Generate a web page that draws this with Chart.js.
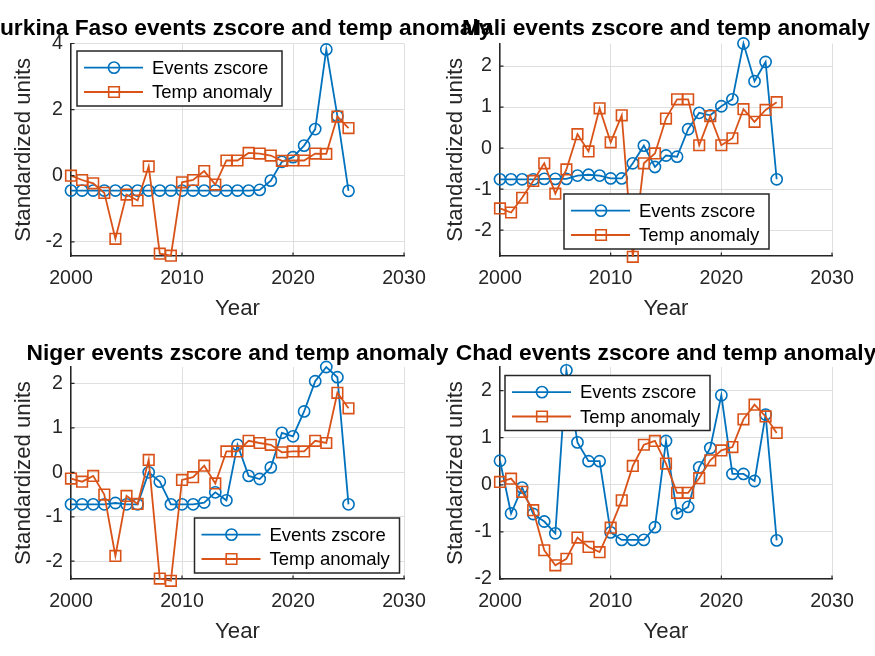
<!DOCTYPE html>
<html><head><meta charset="utf-8">
<script src="https://cdn.jsdelivr.net/npm/chart.js@4.4.1/dist/chart.umd.min.js"></script>
<style>
html,body{margin:0;padding:0;background:#fff;}
#wrap{position:relative;width:875px;height:656px;overflow:hidden;background:#fff;}
canvas{position:absolute;left:0;top:0;}
</style></head><body>
<div id="wrap">
<canvas id="c1" width="875" height="656"></canvas>
<canvas id="c2" width="875" height="656"></canvas>
<canvas id="c3" width="875" height="656"></canvas>
<canvas id="c4" width="875" height="656"></canvas>
</div>
<script>
// ---------------- DATA ----------------
const years = [2000,2001,2002,2003,2004,2005,2006,2007,2008,2009,2010,2011,2012,2013,2014,2015,2016,2017,2018,2019,2020,2021,2022,2023,2024,2025];
const xTicks = [2000,2010,2020,2030];
const seriesNames = ['Events zscore','Temp anomaly'];
const yLabel = 'Standardized units';
const xLabel = 'Year';

const burkinaTitle = 'Burkina Faso events zscore and temp anomaly';
const burkinaEvents = [-0.45,-0.45,-0.45,-0.45,-0.45,-0.45,-0.45,-0.45,-0.45,-0.45,-0.45,-0.45,-0.45,-0.45,-0.45,-0.45,-0.45,-0.43,-0.15,0.42,0.56,0.91,1.41,3.82,1.80,-0.46];
const burkinaTemp   = [0.00,-0.13,-0.23,-0.52,-1.91,-0.57,-0.75,0.28,-2.36,-2.42,-0.20,-0.13,0.14,-0.27,0.46,0.46,0.69,0.67,0.61,0.45,0.46,0.46,0.67,0.66,1.79,1.44];
const burkinaYTicks = [-2,0,2,4];
const burkinaYRange = [-2.43,4];

const maliTitle = 'Mali events zscore and temp anomaly';
const maliEvents = [-0.76,-0.76,-0.76,-0.76,-0.75,-0.75,-0.75,-0.67,-0.65,-0.67,-0.74,-0.74,-0.37,0.06,-0.46,-0.18,-0.21,0.46,0.86,0.80,1.02,1.19,2.55,1.63,2.10,-0.76];
const maliTemp   = [-1.47,-1.57,-1.21,-0.80,-0.37,-1.11,-0.52,0.34,-0.08,0.97,0.14,0.80,-2.65,-0.37,-0.13,0.72,1.19,1.19,0.07,0.78,0.07,0.24,0.95,0.64,0.93,1.12];
const maliYTicks = [-2,-1,0,1,2];
const maliYRange = [-2.63,2.55];

const nigerTitle = 'Niger events zscore and temp anomaly';
const nigerEvents = [-0.72,-0.72,-0.72,-0.72,-0.69,-0.72,-0.72,0.00,-0.21,-0.72,-0.72,-0.72,-0.68,-0.45,-0.63,0.62,-0.08,-0.15,0.11,0.89,0.81,1.37,2.05,2.37,2.14,-0.72];
const nigerTemp   = [-0.14,-0.21,-0.08,-0.50,-1.88,-0.53,-0.71,0.28,-2.39,-2.44,-0.17,-0.11,0.15,-0.25,0.47,0.47,0.71,0.66,0.62,0.45,0.47,0.47,0.71,0.66,1.79,1.44];
const nigerYTicks = [-2,-1,0,1,2];
const nigerYRange = [-2.40,2.37];

const chadTitle = 'Chad events zscore and temp anomaly';
const chadEvents = [0.51,-0.61,-0.06,-0.62,-0.78,-1.03,2.43,0.90,0.50,0.50,-1.01,-1.17,-1.17,-1.17,-0.90,0.93,-0.61,-0.47,0.37,0.78,1.90,0.23,0.23,0.08,1.49,-1.18];
const chadTemp   = [0.06,0.13,-0.15,-0.54,-1.39,-1.71,-1.57,-1.12,-1.32,-1.43,-0.91,-0.33,0.40,0.85,0.93,0.45,-0.17,-0.17,0.14,0.52,0.73,0.80,1.39,1.70,1.45,1.10];
const chadYTicks = [-2,-1,0,1,2];
const chadYRange = [-2,2.5];

// ---------------- STYLE ----------------
const FONT = '"Liberation Sans", Arial, Helvetica, sans-serif';
const BLUE = '#0072BD', ORANGE = '#D95319';
const AX = '#262626', GRID = '#dfdfdf';
const W = 875, H = 656, HX = 66;

Chart.defaults.font.family = FONT;
Chart.defaults.color = AX;

const titlePlugin = {
  id: 'mtitle',
  afterDraw(chart, args, o) {
    const ctx = chart.ctx, a = chart.chartArea;
    ctx.save();
    ctx.font = 'bold 22.8px ' + FONT;
    ctx.fillStyle = '#000';
    ctx.textAlign = 'center';
    ctx.textBaseline = 'alphabetic';
    ctx.fillText(o.text, (a.left + a.right) / 2, o.baseline);
    ctx.restore();
  }
};

const tickPlugin = {
  id: 'mticks',
  afterDraw(chart) {
    const ctx = chart.ctx, a = chart.chartArea, sx = chart.scales.x, sy = chart.scales.y;
    ctx.save();
    ctx.strokeStyle = AX; ctx.lineWidth = 1.2;
    ctx.beginPath();
    sx.ticks.forEach(t => { const px = sx.getPixelForValue(t.value); ctx.moveTo(px, a.bottom); ctx.lineTo(px, a.bottom - 3.5); });
    sy.ticks.forEach(t => { const py = sy.getPixelForValue(t.value); ctx.moveTo(a.left, py); ctx.lineTo(a.left + 3.5, py); });
    ctx.stroke();
    ctx.restore();
  }
};

const legendPlugin = {
  id: 'mlegend',
  afterDraw(chart, args, o) {
    const ctx = chart.ctx;
    const {x, y, w, h} = o;
    ctx.save();
    ctx.fillStyle = '#fff';
    ctx.fillRect(x, y, w, h);
    ctx.strokeStyle = AX; ctx.lineWidth = 1.5;
    ctx.strokeRect(x, y, w, h);
    const rows = [y + 16.6, y + 41];
    chart.data.datasets.forEach((ds, i) => {
      const ry = rows[i];
      ctx.strokeStyle = ds.borderColor;
      ctx.lineWidth = ds.borderWidth;
      ctx.beginPath(); ctx.moveTo(x + 7, ry); ctx.lineTo(x + 66, ry); ctx.stroke();
      ctx.lineWidth = ds.pointBorderWidth;
      const cx = x + 37;
      ctx.beginPath();
      if (ds.pointStyle === 'circle') {
        ctx.arc(cx, ry, ds.pointRadius, 0, Math.PI * 2);
      } else {
        const s = ds.pointRadius * Math.SQRT1_2;
        ctx.rect(cx - s, ry - s, 2 * s, 2 * s);
      }
      ctx.stroke();
      ctx.fillStyle = '#000';
      ctx.font = '18.5px ' + FONT;
      ctx.textAlign = 'left';
      ctx.textBaseline = 'middle';
      ctx.fillText(ds.label, x + 75, ry + 1);
    });
    ctx.restore();
  }
};

function makeChart(id, c) {
  const mk = (arr) => years.map((yr, i) => ({x: yr, y: arr[i]}));
  return new Chart(document.getElementById(id), {
    type: 'line',
    data: {
      datasets: [
        {label: seriesNames[0], data: mk(c.events), borderColor: BLUE, borderWidth: 1.8,
         pointStyle: 'circle', pointRadius: 5.6, pointBorderWidth: 1.6, pointBorderColor: BLUE,
         pointBackgroundColor: 'rgba(0,0,0,0)', order: 1, clip: false, tension: 0, fill: false},
        {label: seriesNames[1], data: mk(c.temp), borderColor: ORANGE, borderWidth: 1.8,
         pointStyle: 'rect', pointRadius: 7.5, pointBorderWidth: 1.6, pointBorderColor: ORANGE,
         pointBackgroundColor: 'rgba(0,0,0,0)', order: 0, clip: false, tension: 0, fill: false}
      ]
    },
    options: {
      responsive: false, animation: false, events: [],
      layout: {padding: {left: c.L - c.wy, right: W - c.R, top: c.T, bottom: H - c.B - HX}},
      plugins: {
        legend: {display: false}, title: {display: false}, tooltip: {enabled: false},
        mtitle: {text: c.title, baseline: c.tb},
        mlegend: c.leg
      },
      scales: {
        x: {
          type: 'linear', min: 2000, max: 2030,
          afterFit: s => { s.height = HX; },
          afterBuildTicks: s => { s.ticks = xTicks.map(v => ({value: v})); },
          ticks: {callback: v => String(v), padding: 11, font: {size: 19.6}, color: AX, maxRotation: 0, autoSkip: false},
          grid: {color: GRID, lineWidth: 1, drawTicks: false},
          border: {display: true, color: AX, width: 1.5},
          title: {display: true, text: xLabel, font: {size: 22.2}, color: AX, padding: 0}
        },
        y: {
          type: 'linear', min: c.yr[0], max: c.yr[1],
          afterFit: s => { s.width = c.wy; },
          afterBuildTicks: s => { s.ticks = c.yt.map(v => ({value: v})); },
          ticks: {callback: v => String(v), padding: 8, font: {size: 19.6}, color: AX},
          grid: {color: GRID, lineWidth: 1, drawTicks: false},
          border: {display: true, color: AX, width: 1.5},
          title: {display: true, text: yLabel, font: {size: 22.2}, color: AX, padding: 0}
        }
      }
    },
    plugins: [titlePlugin, tickPlugin, legendPlugin]
  });
}

makeChart('c1', {events: burkinaEvents, temp: burkinaTemp, yt: burkinaYTicks, yr: burkinaYRange, title: burkinaTitle,
  L: 71, R: 404, T: 43.5, B: 256, wy: 60, tb: 35, leg: {x: 77, y: 51, w: 205, h: 55}});
makeChart('c2', {events: maliEvents, temp: maliTemp, yt: maliYTicks, yr: maliYRange, title: maliTitle,
  L: 500, R: 832, T: 43.5, B: 256, wy: 57, tb: 35, leg: {x: 564, y: 194, w: 205, h: 55}});
makeChart('c3', {events: nigerEvents, temp: nigerTemp, yt: nigerYTicks, yr: nigerYRange, title: nigerTitle,
  L: 71, R: 404, T: 367, B: 579, wy: 60, tb: 359.5, leg: {x: 194.5, y: 518, w: 205, h: 55}});
makeChart('c4', {events: chadEvents, temp: chadTemp, yt: chadYTicks, yr: chadYRange, title: chadTitle,
  L: 500, R: 832, T: 367, B: 579, wy: 57, tb: 359.5, leg: {x: 505, y: 375.5, w: 205, h: 55}});
</script>
</body></html>
